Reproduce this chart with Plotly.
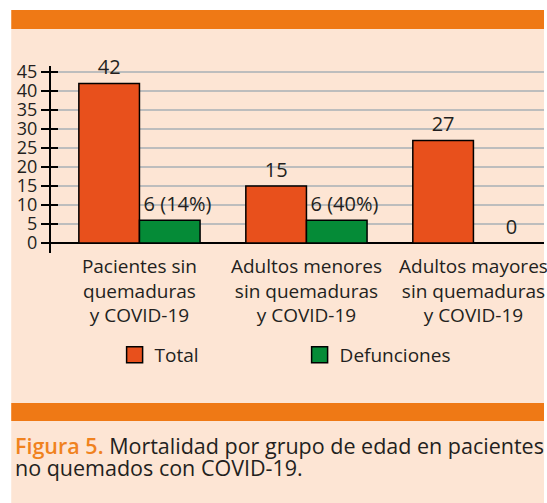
import plotly.graph_objects as go

categories = ["Pacientes sin<br>quemaduras<br>y COVID-19",
              "Adultos menores<br>sin quemaduras<br>y COVID-19",
              "Adultos mayores<br>sin quemaduras<br>y COVID-19"]
total = [42, 15, 27]
defunciones = [6, 6, 0]
def_labels = ["6 (14%)", "6 (40%)", "0"]
y_ticks = [0, 5, 10, 15, 20, 25, 30, 35, 40, 45]

W, H = 547, 503
L, R, T, B = 51, 547, 66, 253
PW, PH = R - L, B - T

def px(x):
    return (x - L) / PW

def py(y):
    return (B - y) / PH

FONT = "Open Sans"
TXT = "#231F20"
ORANGE_RED = "#E8501C"
GREEN = "#058B37"
PEACH = "#FDE5D4"
BAND = "#EF7915"
CAP_ORANGE = "#F0821E"

fig = go.Figure()
fig.add_trace(go.Bar(x=categories, y=total, name="Total",
                     marker=dict(color=ORANGE_RED, line=dict(color="black", width=1.5)),
                     text=[str(v) for v in total], textposition="outside",
                     textfont=dict(size=20, color=TXT, family=FONT),
                     constraintext="none", cliponaxis=False, showlegend=False))
fig.add_trace(go.Bar(x=categories, y=defunciones, name="Defunciones",
                     marker=dict(color=GREEN, line=dict(color="black", width=1.5)),
                     text=def_labels, texttemplate="\u00a0\u00a0\u00a0%{text}",
                     textposition="outside",
                     textfont=dict(size=20, color=TXT, family=FONT),
                     constraintext="none", cliponaxis=False, showlegend=False))
# legend proxies
for nm, col in [("Total", ORANGE_RED), ("Defunciones", GREEN)]:
    fig.add_trace(go.Scatter(x=[None], y=[None], mode="markers", name=nm,
                             marker=dict(symbol="square", size=16, color=col,
                                         line=dict(color="black", width=1.5))))
fig.add_trace(go.Scatter(x=[None], y=[None], yaxis="y2", showlegend=False))

shapes = [
    dict(type="rect", xref="paper", yref="paper", x0=px(11), x1=px(547), y0=py(503), y1=py(29),
         fillcolor=PEACH, line=dict(width=0), layer="below"),
    dict(type="rect", xref="paper", yref="paper", x0=px(11), x1=px(547), y0=py(29), y1=py(10),
         fillcolor=BAND, line=dict(width=0), layer="below"),
    dict(type="rect", xref="paper", yref="paper", x0=px(11), x1=px(547), y0=py(421), y1=py(403),
         fillcolor=BAND, line=dict(width=0), layer="below"),
]

fig.update_layout(
    width=W, height=H,
    margin=dict(l=L, r=W - R, t=T, b=H - B, pad=0),
    paper_bgcolor="white", plot_bgcolor="rgba(0,0,0,0)",
    font=dict(family=FONT, color=TXT, size=18),
    barmode="group", bargap=0.274, bargroupgap=0,
    shapes=shapes,
    showlegend=True,
    legend=dict(orientation="h", x=px(115), xanchor="left", y=py(355), yanchor="middle",
                font=dict(size=19, family=FONT, color=TXT), bgcolor="rgba(0,0,0,0)",
                entrywidth=140, entrywidthmode="pixels", traceorder="normal"),
    xaxis=dict(range=[(L - 140) / 168, (R - 140) / 168], showline=False, showgrid=False,
               zeroline=False, ticks="", tickfont=dict(size=19, family=FONT, color=TXT)),
    yaxis=dict(range=[-2.63, 46.6], tickvals=y_ticks,
               showline=True, linecolor="black", linewidth=2,
               ticks="outside", ticklen=8, tickwidth=1.5, tickcolor="black",
               showgrid=True, gridcolor="#BDBDBD", gridwidth=1.5,
               zeroline=True, zerolinecolor="black", zerolinewidth=2,
               tickfont=dict(size=18, family=FONT, color=TXT)),
    yaxis2=dict(overlaying="y", matches="y", tickvals=y_ticks, ticks="inside", ticklen=7,
                tickwidth=1.5, tickcolor="black", showticklabels=False, showgrid=False,
                zeroline=False, showline=False),
    annotations=[
        dict(xref="paper", yref="paper", x=px(13), y=py(445), xanchor="left", yanchor="middle",
             align="left", showarrow=False,
             text=f"<span style='color:{CAP_ORANGE};font-weight:600'>Figura 5.</span> Mortalidad por grupo de edad en pacientes",
             font=dict(size=21.5, family=FONT, color=TXT)),
        dict(xref="paper", yref="paper", x=px(13), y=py(468), xanchor="left", yanchor="middle",
             align="left", showarrow=False,
             text="no quemados con COVID-19.",
             font=dict(size=21.5, family=FONT, color=TXT)),
    ],
)

fig.write_html("out.html", config={"displayModeBar": False},
               post_script="document.body.style.margin='0px';")
